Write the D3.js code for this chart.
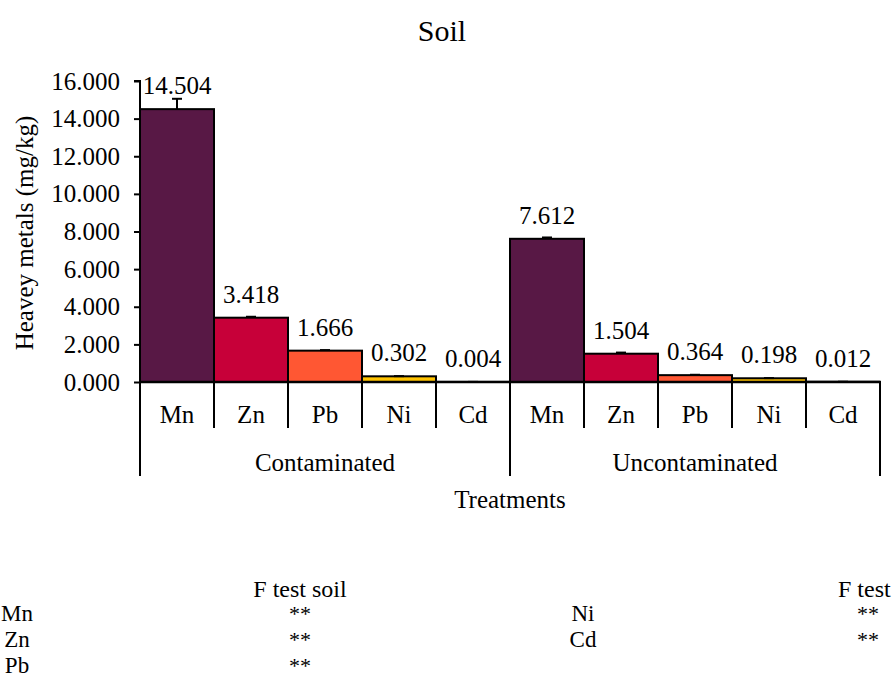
<!DOCTYPE html>
<html>
<head>
<meta charset="utf-8">
<script src="https://cdn.jsdelivr.net/npm/d3@7"></script>
<style>
  html, body { margin: 0; padding: 0; background: #fff; }
  svg { display: block; }
  svg text { font-family: "Liberation Serif", "DejaVu Serif", "Times New Roman", Times, serif !important; fill: #000; }
</style>
</head>
<body>
<div id="chart"></div>
<script>
// ---- data ----
const chartTitle = "Soil";
const yAxisTitle = "Heavey metals (mg/kg)";
const xAxisTitle = "Treatments";
const groups = ["Contaminated", "Uncontaminated"];
const metals = ["Mn", "Zn", "Pb", "Ni", "Cd"];
const contaminated = [14.504, 3.418, 1.666, 0.302, 0.004];
const uncontaminated = [7.612, 1.504, 0.364, 0.198, 0.012];
const errContaminated = [0.55, 0.05, 0.03, 0.01, 0.002];
const errUncontaminated = [0.07, 0.06, 0.02, 0.01, 0.002];
const metalColors = ["#581845", "#C70039", "#FF5733", "#FFC300", "#DAF7A6"];
const yTicks = [0, 2, 4, 6, 8, 10, 12, 14, 16];
const fTestHeader = "F test soil";
const fTestHeaderRight = "F test";
const fLeftMetals = ["Mn", "Zn", "Pb"];
const fLeftSig = ["**", "**", "**"];
const fRightMetals = ["Ni", "Cd"];
const fRightSig = ["**", "**"];

// ---- layout ----
const FONT = "'Liberation Serif', 'DejaVu Serif', 'Times New Roman', Times, serif";
const W = 896, H = 679;
const svg = d3.select("#chart").append("svg").attr("width", W).attr("height", H)
  .attr("font-family", FONT);

const x0 = d3.scaleBand().domain(groups).range([140, 880]).padding(0);
const x1 = d3.scaleBand().domain(metals).range([0, x0.bandwidth()]).padding(0);
const y = d3.scaleLinear().domain([0, 16]).range([382, 81]);
const color = d3.scaleOrdinal().domain(metals).range(metalColors);

const series = [contaminated, uncontaminated];
const errs = [errContaminated, errUncontaminated];
const rows = [];
groups.forEach((g, gi) => metals.forEach((m, mi) => rows.push({
  group: g, metal: m, value: series[gi][mi], err: errs[gi][mi]
})));

function txt(sel) { return sel.attr("font-family", FONT).style("font-family", FONT); }

// title
txt(svg.append("text")).attr("x", 442).attr("y", 41).attr("text-anchor", "middle")
  .style("font-size", "30px").text(chartTitle);

// bars
const gBars = svg.append("g");
gBars.selectAll("rect").data(rows).join("rect")
  .attr("x", d => x0(d.group) + x1(d.metal))
  .attr("width", x1.bandwidth())
  .attr("y", d => y(d.value))
  .attr("height", d => y(0) - y(d.value))
  .attr("fill", d => color(d.metal))
  .attr("stroke", "#000").attr("stroke-width", 2);

// error bars (plus direction)
const cx = d => x0(d.group) + x1(d.metal) + x1.bandwidth() / 2;
gBars.selectAll("line.err").data(rows).join("line").attr("class", "err")
  .attr("x1", cx).attr("x2", cx)
  .attr("y1", d => y(d.value)).attr("y2", d => y(d.value + d.err))
  .attr("stroke", "#000").attr("stroke-width", 2);
gBars.selectAll("line.cap").data(rows).join("line").attr("class", "cap")
  .attr("x1", d => cx(d) - 5).attr("x2", d => cx(d) + 5)
  .attr("y1", d => y(d.value + d.err)).attr("y2", d => y(d.value + d.err))
  .attr("stroke", "#000").attr("stroke-width", 2);

// value labels
txt(gBars.selectAll("text.val").data(rows).join("text").attr("class", "val"))
  .attr("x", cx).attr("y", d => y(d.value) - 15)
  .attr("text-anchor", "middle").style("font-size", "25px")
  .text(d => d.value.toFixed(3));

// y axis
const yAxis = d3.axisLeft(y).tickValues(yTicks).tickFormat(d => d.toFixed(3))
  .tickSize(6).tickPadding(14);
const gy = svg.append("g").attr("transform", "translate(140,0)").call(yAxis)
  .attr("font-family", FONT);
gy.select(".domain").attr("stroke", "#000").attr("stroke-width", 2)
  .attr("d", `M-6,${y(16)}H0V${y(0)}`);
gy.selectAll(".tick line").attr("stroke", "#000").attr("stroke-width", 2);
txt(gy.selectAll(".tick text")).style("font-size", "25px").attr("fill", "#000");

// y axis title
txt(svg.append("text")).attr("transform", "translate(33,233) rotate(-90)")
  .attr("text-anchor", "middle").style("font-size", "25px").text(yAxisTitle);

// x axis line
svg.append("line").attr("x1", 140).attr("x2", 880).attr("y1", y(0)).attr("y2", y(0))
  .attr("stroke", "#000").attr("stroke-width", 2.5);

// category separators (inner)
const inner = [];
groups.forEach(g => metals.slice(1).forEach(m => inner.push(x0(g) + x1(m))));
svg.selectAll("line.sep").data(inner).join("line").attr("class", "sep")
  .attr("x1", d => d).attr("x2", d => d).attr("y1", y(0)).attr("y2", 428)
  .attr("stroke", "#000").attr("stroke-width", 2);
// group separators
const outer = groups.map(g => x0(g)).concat([x0(groups[groups.length - 1]) + x0.bandwidth()]);
svg.selectAll("line.gsep").data(outer).join("line").attr("class", "gsep")
  .attr("x1", d => d).attr("x2", d => d).attr("y1", y(0)).attr("y2", 476)
  .attr("stroke", "#000").attr("stroke-width", 2);

// category labels
txt(svg.selectAll("text.cat").data(rows).join("text").attr("class", "cat"))
  .attr("x", cx).attr("y", 423).attr("text-anchor", "middle")
  .style("font-size", "25px").text(d => d.metal);
// group labels
txt(svg.selectAll("text.grp").data(groups).join("text").attr("class", "grp"))
  .attr("x", d => x0(d) + x0.bandwidth() / 2).attr("y", 471).attr("text-anchor", "middle")
  .style("font-size", "25px").text(d => d);
// x axis title
txt(svg.append("text")).attr("x", 510).attr("y", 508).attr("text-anchor", "middle")
  .style("font-size", "25px").text(xAxisTitle);

// F test table
const rowY = [621, 647, 673];
txt(svg.append("text")).attr("x", 300).attr("y", 597).attr("text-anchor", "middle")
  .style("font-size", "24px").text(fTestHeader);
txt(svg.append("text")).attr("x", 838).attr("y", 597).attr("text-anchor", "start")
  .style("font-size", "24px").text(fTestHeaderRight);
txt(svg.selectAll("text.fl").data(fLeftMetals).join("text").attr("class", "fl"))
  .attr("x", 17).attr("y", (d, i) => rowY[i]).attr("text-anchor", "middle")
  .style("font-size", "23px").text(d => d);
txt(svg.selectAll("text.fls").data(fLeftSig).join("text").attr("class", "fls"))
  .attr("x", 300).attr("y", (d, i) => rowY[i]).attr("text-anchor", "middle")
  .style("font-size", "22px").text(d => d);
txt(svg.selectAll("text.fr").data(fRightMetals).join("text").attr("class", "fr"))
  .attr("x", 583).attr("y", (d, i) => rowY[i]).attr("text-anchor", "middle")
  .style("font-size", "23px").text(d => d);
txt(svg.selectAll("text.frs").data(fRightSig).join("text").attr("class", "frs"))
  .attr("x", 868).attr("y", (d, i) => rowY[i]).attr("text-anchor", "middle")
  .style("font-size", "22px").text(d => d);
</script>
</body>
</html>
